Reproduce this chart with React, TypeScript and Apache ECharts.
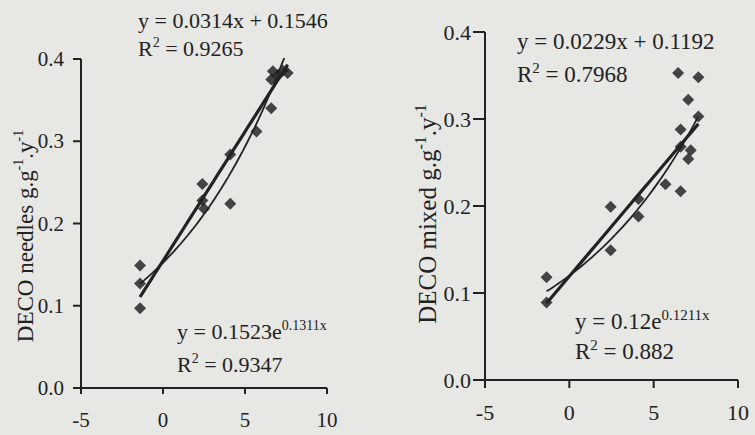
import React, { useEffect, useRef } from "react";
import * as echarts from "echarts";

// Panel A: DECO needles
const needlesX = [-1.4, -1.4, -1.4, 2.4, 2.4, 2.5, 4.1, 4.1, 5.7, 6.6, 6.6, 6.7, 7.0, 7.3, 7.6];
const needlesY = [0.149, 0.127, 0.097, 0.248, 0.228, 0.218, 0.284, 0.224, 0.312, 0.34, 0.375, 0.385, 0.38, 0.386, 0.383];
// Panel B: DECO mixed
const mixedX = [-1.35, -1.35, 2.45, 2.45, 4.1, 4.1, 5.7, 6.6, 6.45, 7.65, 7.05, 7.65, 6.6, 6.6, 7.2, 7.05];
const mixedY = [0.118, 0.089, 0.199, 0.149, 0.208, 0.188, 0.225, 0.217, 0.353, 0.348, 0.322, 0.303, 0.288, 0.268, 0.264, 0.254];

// Regression equations printed on the chart
const linNeedles = [0.0314, 0.1546];
const expNeedles = [0.1523, 0.1311];
const linMixed = [0.0229, 0.1192];
const expMixed = [0.12, 0.1211];
const r2Needles = ["0.9265", "0.9347"];
const r2Mixed = ["0.7968", "0.882"];

const xTicks = [-5, 0, 5, 10];
const yTicks = [0, 0.1, 0.2, 0.3, 0.4];

const INK = "#222222";
const BG = "#e7e7e4";
const FONT = "Liberation Serif";

function trendLine(xs: number[], f: (x: number) => number) {
  const lo = Math.min(...xs);
  const hi = Math.max(...xs);
  const pts: number[][] = [];
  const steps = 40;
  for (let i = 0; i <= steps; i++) {
    const x = lo + ((hi - lo) * i) / steps;
    pts.push([x, f(x)]);
  }
  return pts;
}

function eqText(x: number, y: number, main: string, sup: string, tail: string, size: number) {
  return {
    type: "text",
    x,
    y,
    style: {
      text: `{a|${main}}{s|${sup}}{a|${tail}}`,
      fill: INK,
      verticalAlign: "middle",
      align: "left",
      rich: {
        a: { fontFamily: FONT, fontSize: size, fill: INK, lineHeight: size + 4 },
        s: { fontFamily: FONT, fontSize: Math.round(size * 0.64), fill: INK, verticalAlign: "top", lineHeight: size + 4 },
      },
    },
  };
}

function axisName(x: number, y: number, label: string, size: number) {
  return {
    type: "text",
    x,
    y,
    rotation: Math.PI / 2,
    style: {
      text: `{a|DECO ${label} g.g}{s|-1}{a|.y}{s|-1}`,
      fill: INK,
      align: "center",
      verticalAlign: "middle",
      rich: {
        a: { fontFamily: FONT, fontSize: size, fill: INK, lineHeight: size + 4 },
        s: { fontFamily: FONT, fontSize: Math.round(size * 0.62), fill: INK, verticalAlign: "top", lineHeight: size + 4 },
      },
    },
  };
}

function xAxisCfg(grid: number, size: number) {
  return {
    type: "value",
    gridIndex: grid,
    min: xTicks[0],
    max: xTicks[xTicks.length - 1],
    interval: 5,
    splitLine: { show: false },
    axisLine: { show: false },
    axisTick: { show: false },
    axisLabel: { fontFamily: FONT, fontSize: size, color: INK, margin: 21 },
  };
}

function yAxisCfg(grid: number, size: number, margin: number) {
  return {
    type: "value",
    gridIndex: grid,
    min: yTicks[0],
    max: yTicks[yTicks.length - 1],
    interval: 0.1,
    splitLine: { show: false },
    axisLine: { show: false },
    axisTick: { show: false },
    axisLabel: {
      fontFamily: FONT,
      fontSize: size,
      color: INK,
      margin,
      formatter: (v: number) => v.toFixed(1),
    },
  };
}

// Frame and outward ticks, positioned by converting axis values to pixels with the chart's own scales.
function frameGraphics(chart: any, idx: number, tickLenX: number, tickLenY: number) {
  const finder = { xAxisIndex: idx, yAxisIndex: idx };
  const px = (x: number, y: number) => chart.convertToPixel(finder, [x, y]) as number[];
  const x0 = xTicks[0];
  const x1 = xTicks[xTicks.length - 1];
  const y0 = yTicks[0];
  const y1 = yTicks[yTicks.length - 1];
  const top = px(x0, y1);
  const o = px(x0, y0);
  const right = px(x1, y0);
  const st = { stroke: INK, lineWidth: 2, fill: null };
  const els: any[] = [
    { type: "polyline", z: 100, shape: { points: [top, o, right] }, style: st },
  ];
  xTicks.forEach((v) => {
    const p = px(v, y0);
    els.push({ type: "line", z: 100, shape: { x1: p[0], y1: p[1], x2: p[0], y2: p[1] + tickLenX }, style: st });
  });
  yTicks.forEach((v) => {
    const p = px(x0, v);
    els.push({ type: "line", z: 100, shape: { x1: p[0], y1: p[1], x2: p[0] - tickLenY, y2: p[1] }, style: st });
  });
  return els;
}

export default function App() {
  const ref = useRef<HTMLDivElement>(null);
  useEffect(() => {
    document.body.style.margin = "0";
    document.body.style.background = BG;
    const chart = echarts.init(ref.current!, undefined, { renderer: "svg" });
    const scatterStyle = { color: "#1a1a1a" };
    const texts = [
      eqText(138, 20, `y = ${linNeedles[0]}x + ${linNeedles[1]}`, "", "", 22),
      eqText(138, 48, "R", "2", ` = ${r2Needles[0]}`, 22),
      eqText(177, 331, `y = ${expNeedles[0]}e`, `${expNeedles[1]}x`, "", 22),
      eqText(177, 364, "R", "2", ` = ${r2Needles[1]}`, 22),
      eqText(517, 41, `y = ${linMixed[0]}x + ${linMixed[1]}`, "", "", 23),
      eqText(517, 74, "R", "2", ` = ${r2Mixed[0]}`, 23),
      eqText(575, 321, `y = ${expMixed[0]}e`, `${expMixed[1]}x`, "", 23),
      eqText(575, 351, "R", "2", ` = ${r2Mixed[1]}`, 23),
      axisName(25, 236, "needles", 23),
      axisName(427, 214, "mixed", 25),
    ];
    chart.setOption({
      animation: false,
      backgroundColor: BG,
      grid: [
        { left: 81, top: 59, width: 246, height: 329 },
        { left: 485, top: 32, width: 253, height: 348 },
      ],
      xAxis: [xAxisCfg(0, 21), xAxisCfg(1, 22)],
      yAxis: [yAxisCfg(0, 21, 17), yAxisCfg(1, 22, 14)],
      series: [
        {
          type: "scatter",
          xAxisIndex: 0,
          yAxisIndex: 0,
          symbol: "diamond",
          symbolSize: 12,
          itemStyle: scatterStyle,
          data: needlesX.map((x, i) => [x, needlesY[i]]),
        },
        {
          type: "line",
          xAxisIndex: 0,
          yAxisIndex: 0,
          showSymbol: false,
          lineStyle: { color: INK, width: 3.2 },
          data: trendLine(needlesX, (x) => linNeedles[0] * x + linNeedles[1]),
        },
        {
          type: "line",
          xAxisIndex: 0,
          yAxisIndex: 0,
          showSymbol: false,
          lineStyle: { color: INK, width: 1.8 },
          data: trendLine(needlesX, (x) => expNeedles[0] * Math.exp(expNeedles[1] * x)),
        },
        {
          type: "scatter",
          xAxisIndex: 1,
          yAxisIndex: 1,
          symbol: "diamond",
          symbolSize: 12,
          itemStyle: scatterStyle,
          data: mixedX.map((x, i) => [x, mixedY[i]]),
        },
        {
          type: "line",
          xAxisIndex: 1,
          yAxisIndex: 1,
          showSymbol: false,
          lineStyle: { color: INK, width: 3.2 },
          data: trendLine(mixedX, (x) => linMixed[0] * x + linMixed[1]),
        },
        {
          type: "line",
          xAxisIndex: 1,
          yAxisIndex: 1,
          showSymbol: false,
          lineStyle: { color: INK, width: 1.8 },
          data: trendLine(mixedX, (x) => expMixed[0] * Math.exp(expMixed[1] * x)),
        },
      ],
      graphic: texts,
    });
    const frames = [...frameGraphics(chart, 0, 6, 8), ...frameGraphics(chart, 1, 8, 12)];
    chart.setOption({ graphic: [...texts, ...frames] });
    return () => chart.dispose();
  }, []);
  return <div ref={ref} style={{ position: "fixed", left: 0, top: 0, width: 755, height: 435 }} />;
}
